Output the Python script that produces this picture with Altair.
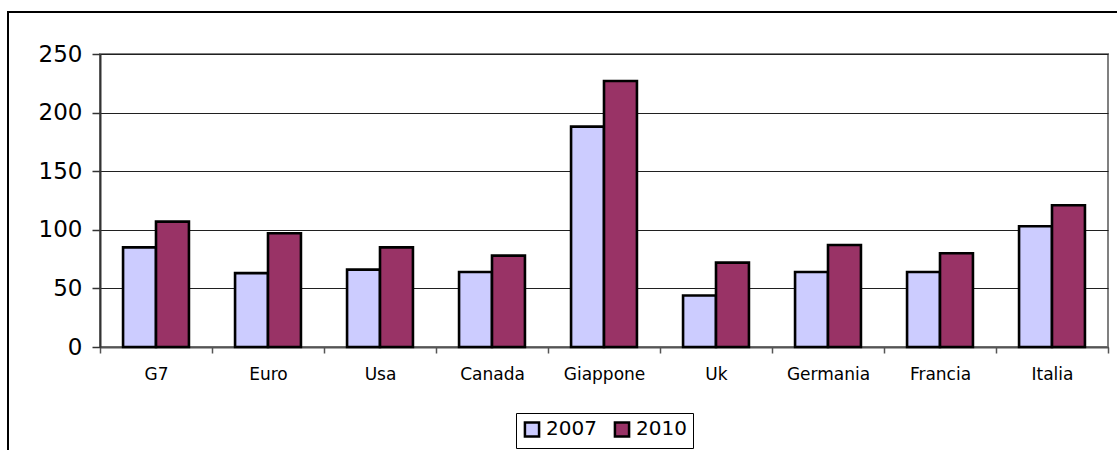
import altair as alt
import pandas as pd

# Debt-to-GDP style comparison, two years per country group
categories = ["G7", "Euro", "Usa", "Canada", "Giappone", "Uk", "Germania", "Francia", "Italia"]
years = ["2007", "2010"]
values_2007 = [85, 63, 66, 64, 188, 44, 64, 64, 103]
values_2010 = [107, 97, 85, 78, 227, 72, 87, 80, 121]
year_colors = ["#CCCCFF", "#993366"]
y_ticks = [0, 50, 100, 150, 200, 250]

rows = []
for cat, v07, v10 in zip(categories, values_2007, values_2010):
    rows.append({"categoria": cat, "anno": years[0], "valore": v07})
    rows.append({"categoria": cat, "anno": years[1], "valore": v10})
df = pd.DataFrame(rows)

FONT = "DejaVu Sans"

bars = alt.Chart(df).mark_bar(stroke="black", strokeWidth=2.6).encode(
    x=alt.X(
        "categoria:N",
        sort=categories,
        scale=alt.Scale(paddingInner=0, paddingOuter=0),
        axis=alt.Axis(
            title=None,
            labelAngle=0,
            labelFont=FONT,
            labelFontSize=17,
            labelColor="black",
            labelPadding=13,
            tickBand="extent",
            tickSize=6,
            tickColor="#555555",
            tickWidth=1.5,
            domainColor="#555555",
            domainWidth=2,
        ),
    ),
    xOffset=alt.XOffset(
        "anno:N",
        sort=years,
        scale=alt.Scale(paddingInner=0, paddingOuter=0.7),
    ),
    y=alt.Y(
        "valore:Q",
        scale=alt.Scale(domain=[0, 250], nice=False),
        axis=alt.Axis(
            title=None,
            values=y_ticks,
            labelFont=FONT,
            labelFontSize=23,
            labelColor="black",
            labelPadding=10,
            tickSize=8,
            tickColor="#333333",
            tickWidth=1.5,
            domainColor="#333333",
            domainWidth=2,
            grid=True,
            gridColor="#202020",
            gridWidth=1,
        ),
    ),
    color=alt.Color(
        "anno:N",
        sort=years,
        scale=alt.Scale(domain=years, range=year_colors),
        legend=alt.Legend(
            title=None,
            orient="none",
            legendX=416,
            legendY=359,
            direction="horizontal",
            symbolType="square",
            symbolSize=200,
            symbolStrokeColor="black",
            symbolStrokeWidth=2.5,
            symbolOpacity=1,
            labelFont=FONT,
            labelFontSize=20,
            labelColor="black",
            labelOffset=4,
            columnPadding=12,
            padding=6,
            strokeColor="black",
            fillColor="white",
        ),
    ),
)

# outer frame of the chart box
frame = alt.Chart(pd.DataFrame({"k": [0]})).mark_rect(
    fillOpacity=0, stroke="black", strokeWidth=2
).encode(
    x=alt.value(-92),
    x2=alt.value(1130),
    y=alt.value(-42),
    y2=alt.value(470),
)

chart = (
    alt.layer(frame, bars)
    .properties(
        width=1008,
        height=293,
        autosize=alt.AutoSizeParams(type="none"),
        padding={"left": 100, "top": 54, "right": 9, "bottom": 103},
        background="white",
    )
    .configure_view(stroke="#808080", strokeWidth=2)
)

chart.save("out.html", embed_options={"renderer": "svg", "actions": False})
